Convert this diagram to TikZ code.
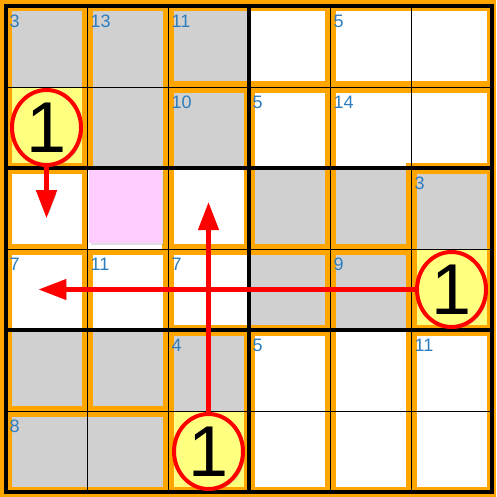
\documentclass[tikz,border=0pt]{standalone}
\usepackage{fontspec}
\setmainfont{Liberation Sans}
\usetikzlibrary{arrows.meta,shapes.geometric,shadows}

\definecolor{cagebord}{RGB}{255,165,0}
\definecolor{cellgrey}{RGB}{208,208,208}
\definecolor{cellyell}{RGB}{255,255,128}
\definecolor{cellpink}{RGB}{255,204,255}
\definecolor{cluetext}{RGB}{45,125,190}

\newcommand{\cage}[1]{\begin{scope}\clip #1; \draw[cage edge] #1; \end{scope}}

\tikzset{
  cage edge/.style={draw=cagebord, line width=11pt},
  gridthin/.style={black, line width=1pt},
  gridthick/.style={black, line width=3.3pt},
  clue/.style={anchor=north west, inner sep=0pt, xshift=3.5pt, yshift=-9pt,
    text=cluetext, font=\fontsize{18}{18}\selectfont},
  ring/.style={ellipse, draw=red, line width=4pt, fill=cellyell,
    minimum width=69pt, minimum height=75pt, inner sep=0pt,
    font=\fontsize{72}{72}\selectfont,
    drop shadow={opacity=0.3, shadow xshift=2pt, shadow yshift=-2pt}},
  hint/.style={red, line width=4.5pt, -{Triangle[width=20pt,length=28pt]},
    preaction={draw=black, opacity=0.2, transform canvas={shift={(2pt,-2pt)}}}},
}

\begin{document}
\begin{tikzpicture}[x=81pt, y=-81pt]
\path[use as bounding box, fill=cagebord] (-0.0741,-0.0741) rectangle (6.0494,6.0617);

% cells
\fill[white] (0,0) rectangle (6,6);
\foreach \c/\r in {0/0,1/0,2/0,1/1,2/1,3/2,4/2,5/2,3/3,4/3,0/4,1/4,2/4,0/5,1/5}
  \fill[cellgrey] (\c,\r) rectangle ++(1,1);
\foreach \c/\r in {0/1,5/3,2/5}
  \fill[cellyell] (\c,\r) rectangle ++(1,1);

% cages
\cage{(0,0) rectangle (1,2)}
\cage{(1,0) rectangle (2,3)}
\cage{(2,0) rectangle (4,1)}
\cage{(4,0) rectangle (6,1)}
\cage{(2,1) rectangle (3,3)}
\cage{(3,1) rectangle (4,3)}
\cage{(4,1) -- (6,1) -- (6,2) -- (5,2) -- (5,3) -- (4,3) -- cycle}
\cage{(0,2) rectangle (1,3)}
\cage{(5,2) rectangle (6,4)}
\cage{(0,3) rectangle (1,5)}
\cage{(1,3) rectangle (2,5)}
\cage{(2,3) rectangle (4,4)}
\cage{(4,3) rectangle (5,6)}
\cage{(2,4) rectangle (3,6)}
\cage{(3,4) rectangle (4,6)}
\cage{(5,4) rectangle (6,6)}
\cage{(0,5) rectangle (2,6)}

% highlighted cell
\fill[white] (1,2) rectangle (1.926,3);
\fill[cellpink, drop shadow={opacity=0.25, shadow xshift=1.5pt, shadow yshift=-1.5pt}]
  (1.03,2.02) rectangle (1.926,2.926);

% grid
\foreach \i in {1,2,4,5} \draw[gridthin] (\i,0) -- (\i,6);
\foreach \i in {1,3,5} \draw[gridthin] (0,\i) -- (6,\i);
\draw[gridthick] (3,0) -- (3,6) (0,2) -- (6,2) (0,4) -- (6,4);
\draw[gridthick] (0,0) rectangle (6,6);

% clues
\foreach \c/\r/\s in {0/0/3,1/0/13,2/0/11,4/0/5,2/1/10,3/1/5,4/1/14,5/2/3,
  0/3/7,1/3/11,2/3/7,4/3/9,2/4/4,3/4/5,5/4/11,0/5/8}
  \node[clue] (k\c\r) at (\c,\r) {\s};

% rings and arrows
\node[ring] (ring a) at (0.5,1.5) {1};
\node[ring] (ring b) at (5.5,3.5) {1};
\node[ring] (ring c) at (2.5,5.5) {1};
\coordinate (tip a) at (0.5,2.62);
\coordinate (tip b) at (0.4,3.5);
\coordinate (tip c) at (2.5,2.42);
\draw[hint] (ring a) -- (tip a);
\draw[hint] (ring b) -- (tip b);
\draw[hint] (ring c) -- (tip c);
\end{tikzpicture}
\end{document}
